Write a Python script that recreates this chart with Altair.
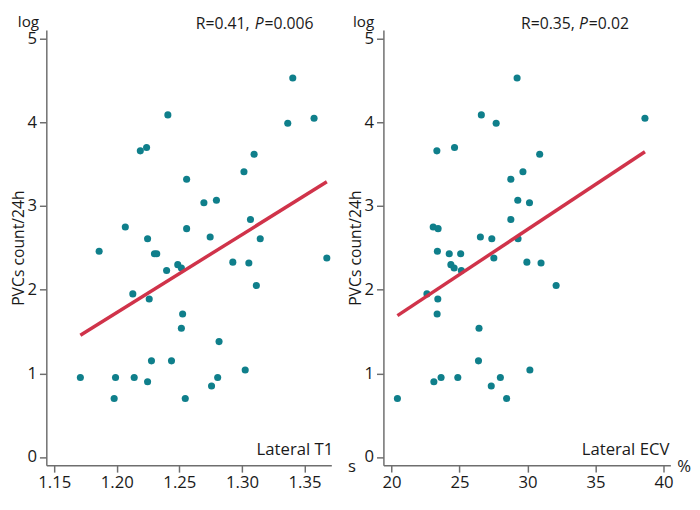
import altair as alt
import pandas as pd

# Left panel: Lateral T1 (s) vs log PVCs count/24h
t1_x = [1.3406, 1.2408, 1.3366, 1.3576, 1.2188, 1.2238, 1.3097, 1.3016, 1.2558, 1.2696,
        1.2796, 1.2068, 1.2558, 1.3068, 1.2246, 1.2746, 1.3146, 1.1859, 1.2301, 1.2319,
        1.3678, 1.2927, 1.3055, 1.2398, 1.2487, 1.2516, 1.3115, 1.2128, 1.2259, 1.2526,
        1.2516, 1.2817, 1.2277, 1.2437, 1.3026, 1.1709, 1.1990, 1.2139, 1.2806, 1.2246,
        1.2757, 1.1979, 1.2547]
t1_y = [4.53, 4.09, 3.99, 4.05, 3.66, 3.70, 3.62, 3.41, 3.32, 3.04,
        3.07, 2.75, 2.73, 2.84, 2.61, 2.63, 2.61, 2.46, 2.43, 2.43,
        2.38, 2.33, 2.32, 2.23, 2.30, 2.26, 2.05, 1.95, 1.89, 1.71,
        1.54, 1.38, 1.15, 1.15, 1.04, 0.95, 0.95, 0.95, 0.95, 0.90,
        0.85, 0.70, 0.70]
t1_fit_x = [1.1709, 1.3678]
t1_fit_y = [1.456, 3.29]

# Right panel: Lateral ECV (%) vs log PVCs count/24h
ecv_x = [29.23, 26.60, 27.69, 38.63, 23.33, 24.63, 30.89, 29.66, 28.77, 30.14,
         29.28, 23.06, 23.42, 28.77, 26.53, 27.37, 29.30, 23.37, 24.24, 25.08,
         27.52, 29.95, 30.99, 24.36, 24.60, 25.13, 32.10, 22.60, 23.40, 23.35,
         26.43, 26.39, 30.17, 23.64, 24.87, 28.00, 23.11, 27.33, 20.43, 28.46]
ecv_y = [4.53, 4.09, 3.99, 4.05, 3.66, 3.70, 3.62, 3.41, 3.32, 3.04,
         3.07, 2.75, 2.73, 2.84, 2.63, 2.61, 2.61, 2.46, 2.43, 2.43,
         2.38, 2.33, 2.32, 2.30, 2.26, 2.23, 2.05, 1.95, 1.89, 1.71,
         1.54, 1.15, 1.04, 0.95, 0.95, 0.95, 0.90, 0.85, 0.70, 0.70]
ecv_fit_x = [20.43, 38.63]
ecv_fit_y = [1.69, 3.65]

y_ticks = [0, 1, 2, 3, 4, 5]
t1_ticks = [1.15, 1.20, 1.25, 1.30, 1.35]
ecv_ticks = [20, 25, 30, 35, 40]

POINT = "#0f7f8b"
LINE = "#d0334a"
FONT = "Open Sans"
TXT = "#1a1a1a"
W_L, W_R, H = 290, 292, 443

yscale = alt.Scale(domain=[-0.098, 5.106], nice=False, zero=False)
yaxis = alt.Axis(values=y_ticks, title="PVCs count/24h", format="d")


def txt(s, x, y, align="left", size=16, style="normal"):
    return alt.Chart(pd.DataFrame({"t": [s]})).mark_text(
        align=align, baseline="alphabetic", fontSize=size, font=FONT,
        color=TXT, fontStyle=style
    ).encode(text="t:N", x=alt.value(x), y=alt.value(y))


def panel(xs, ys, fx, fy, xdom, xticks, xfmt, width, texts):
    pts = pd.DataFrame({"x": xs, "y": ys})
    fit = pd.DataFrame({"x": fx, "y": fy})
    xscale = alt.Scale(domain=xdom, nice=False, zero=False)
    xaxis = alt.Axis(values=xticks, format=xfmt, title=None)
    p = alt.Chart(pts).mark_circle(size=52, color=POINT, opacity=1).encode(
        x=alt.X("x:Q", scale=xscale, axis=xaxis),
        y=alt.Y("y:Q", scale=yscale, axis=yaxis),
    )
    l = alt.Chart(fit).mark_line(color=LINE, strokeWidth=3.5).encode(
        x=alt.X("x:Q", scale=xscale), y=alt.Y("y:Q", scale=yscale)
    )
    return alt.layer(p, l, *texts).properties(width=width, height=H)


left = panel(t1_x, t1_y, t1_fit_x, t1_fit_y, [1.1437, 1.3714], t1_ticks, ".2f", W_L, [
    txt("log", -29, -2.5, size=15.5),
    txt("R=0.41,", 152, -1),
    txt("P", 212, -1, style="italic"),
    txt("=0.006", 222, -1),
    txt("Lateral T1", 292, 433, align="right", size=17),
])

right = panel(ecv_x, ecv_y, ecv_fit_x, ecv_fit_y, [19.4, 40.5], ecv_ticks, "d", W_R, [
    txt("log", -31, -2.5, size=15.5),
    txt("R=0.35,", 140, -1),
    txt("P", 199, -1, style="italic"),
    txt("=0.02", 209, -1),
    txt("Lateral ECV", 291, 433, align="right", size=17),
    txt("s", -36, 450, size=17),
    txt("%", 299, 450, size=17),
])

chart = alt.hconcat(left, right, spacing=13).properties(
    padding={"left": 2, "top": 3, "right": 0, "bottom": 0},
    background="white",
).configure_view(stroke=None).configure_axis(
    grid=False,
    domainColor="#6e6e6e", domainWidth=1.5,
    tickColor="#6e6e6e", tickWidth=1.5, tickSize=7,
    labelFont=FONT, labelFontSize=17, labelColor=TXT, labelPadding=3,
    titleFont=FONT, titleFontSize=16, titleColor=TXT, titleFontWeight="normal",
    titlePadding=1,
)

chart.save("out.html", embed_options={"renderer": "svg", "actions": False})
